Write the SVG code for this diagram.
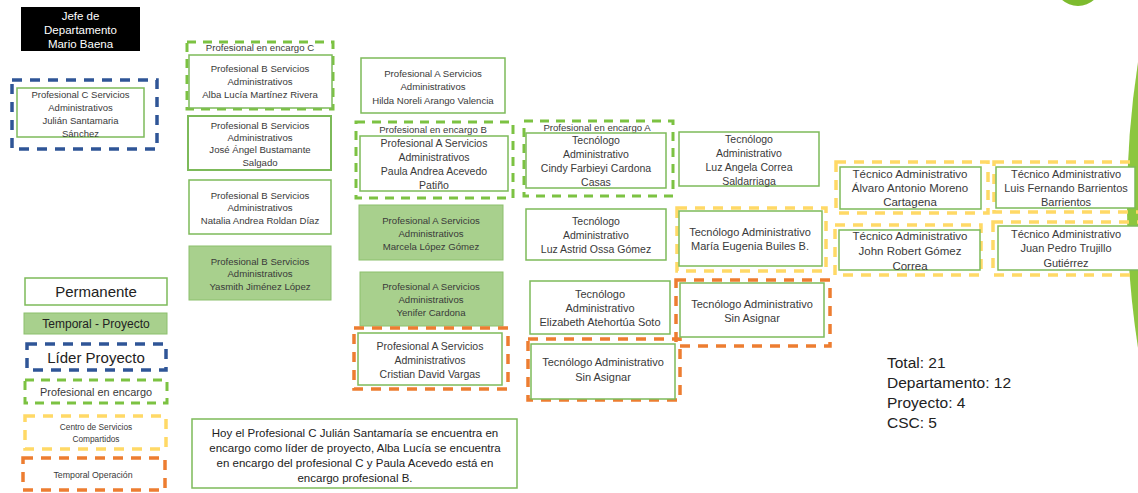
<svg xmlns="http://www.w3.org/2000/svg" width="1138" height="493" viewBox="0 0 1138 493">
<style>
text{font-family:"Liberation Sans",Arial,sans-serif;fill:#3a3a3a;text-anchor:middle;font-size:9.6px}
.box{fill:#fff;stroke:#7dba5a;stroke-width:1.5}
.tmp{fill:#a8d08d;stroke:#8cc06c;stroke-width:1}
.enc{fill:none;stroke:#7cc242;stroke-width:3;stroke-dasharray:9 7}
.lid{fill:none;stroke:#2f5597;stroke-width:3.5;stroke-dasharray:10 8}
.csc{fill:none;stroke:#ffd966;stroke-width:3.5;stroke-dasharray:10 8}
.ope{fill:none;stroke:#ed7d31;stroke-width:3.5;stroke-dasharray:10 8}
.m{font-size:10.5px}
.l{font-size:11px}
.xl{font-size:11.5px}
.tot{font-size:15.5px;text-anchor:start;fill:#222}
</style>
<g id="decor">
<ellipse cx="1078" cy="-16" rx="23" ry="22" fill="#7dbb2e"/>
<path d="M1138,62 Q1116,205 1138,348 Z" fill="#8cc63f"/>
</g>
<g id="connectors"/>
<g id="jefe">
<rect x="21" y="7" width="119" height="44" fill="#000"/>
<text x="80.5" y="20" style="fill:#fff;font-size:11.5px">Jefe de</text>
<text x="80.5" y="34" style="fill:#fff;font-size:11.5px">Departamento</text>
<text x="80.5" y="48" style="fill:#fff;font-size:11.5px">Mario Baena</text>
</g>
<g id="julian">
<rect class="lid" x="12" y="80" width="145" height="69"/>
<rect class="box" x="17" y="88" width="127" height="49"/>
<text x="80.5" y="97.5" style="font-size:9.5px">Profesional C Servicios</text>
<text x="80.5" y="110.5" style="font-size:9.5px">Administrativos</text>
<text x="80.5" y="123.5" style="font-size:9.5px">Julián Santamaria</text>
<text x="80.5" y="136.5" style="font-size:9.5px">Sánchez</text>
</g>
<g id="alba">
<rect class="enc" x="187" y="42" width="146" height="67"/>
<text x="260" y="50.5">Profesional en encargo C</text>
<rect class="box" x="189" y="55" width="143" height="53"/>
<text x="260" y="72">Profesional B  Servicios</text>
<text x="260" y="85">Administrativos</text>
<text x="260" y="98">Alba Lucía Martínez Rivera</text>
</g>
<g id="jose">
<rect class="box" x="188" y="116" width="143" height="54" style="stroke-width:2"/>
<text x="260" y="128.5">Profesional B Servicios</text>
<text x="260" y="140.5">Administrativos</text>
<text x="260" y="152.5">José Ángel Bustamante</text>
<text x="260" y="165.5">Salgado</text>
</g>
<g id="natalia">
<rect class="box" x="189" y="180" width="142" height="54"/>
<text x="260" y="198.5">Profesional B Servicios</text>
<text x="260" y="210.5">Administrativos</text>
<text x="260" y="223.5">Natalia Andrea Roldan Díaz</text>
</g>
<g id="yasmith">
<rect class="tmp" x="189" y="246" width="142" height="54"/>
<text x="260" y="264.5">Profesional B Servicios</text>
<text x="260" y="276.5">Administrativos</text>
<text x="260" y="289.5">Yasmith Jiménez López</text>
</g>
<g id="hilda">
<rect class="box" x="361" y="58" width="144" height="55"/>
<text x="433" y="76.5">Profesional A Servicios</text>
<text x="433" y="89.5">Administrativos</text>
<text x="433" y="103.5">Hilda Noreli Arango Valencia</text>
</g>
<g id="paula">
<rect class="enc" x="356" y="122" width="157" height="76"/>
<text x="433" y="132.5">Profesional en encargo B</text>
<rect class="box" x="360" y="136" width="148" height="55"/>
<text class="m" x="434" y="147">Profesional A Servicios</text>
<text class="m" x="434" y="161">Administrativos</text>
<text class="m" x="434" y="175">Paula Andrea Acevedo</text>
<text class="m" x="434" y="189">Patiño</text>
</g>
<g id="marcela">
<rect class="tmp" x="359" y="205" width="144" height="55"/>
<text x="431" y="223.5">Profesional A Servicios</text>
<text x="431" y="236.5">Administrativos</text>
<text x="431" y="249.5">Marcela López Gómez</text>
</g>
<g id="yenifer">
<rect class="tmp" x="360" y="272" width="143" height="54"/>
<text x="431" y="289.5">Profesional A Servicios</text>
<text x="431" y="302.5">Administrativos</text>
<text x="431" y="315.5">Yenifer Cardona</text>
</g>
<g id="cristian">
<rect class="ope" x="354" y="328" width="154" height="61"/>
<rect class="box" x="358" y="333" width="144" height="52"/>
<text class="m" x="430" y="350">Profesional A Servicios</text>
<text class="m" x="430" y="364">Administrativos</text>
<text class="m" x="430" y="378">Cristian David Vargas</text>
</g>
<g id="cindy">
<rect class="enc" x="524" y="121" width="149" height="75"/>
<text x="597" y="130.5" style="font-size:9.6px">Profesional en encargo A</text>
<rect class="box" x="526" y="133" width="140" height="55"/>
<text class="m" x="596" y="144">Tecnólogo</text>
<text class="m" x="596" y="158">Administrativo</text>
<text class="m" x="596" y="172">Cindy Farbieyi Cardona</text>
<text class="m" x="596" y="186">Casas</text>
</g>
<g id="luzastrid">
<rect class="box" x="526" y="209" width="140" height="51"/>
<text class="m" x="596" y="225">Tecnólogo</text>
<text class="m" x="596" y="239">Administrativo</text>
<text class="m" x="596" y="253">Luz Astrid Ossa Gómez</text>
</g>
<g id="elizabeth">
<rect class="box" x="530" y="281" width="140" height="53"/>
<text class="l" x="600" y="298">Tecnólogo</text>
<text class="l" x="600" y="312">Administrativo</text>
<text class="l" x="600" y="326">Elizabeth Atehortúa Soto</text>
</g>
<g id="sinasignar1">
<rect class="ope" x="528" y="339" width="152" height="61"/>
<rect class="box" x="531" y="344" width="144" height="55"/>
<text class="l" x="603" y="366">Tecnólogo Administrativo</text>
<text class="l" x="603" y="381">Sin Asignar</text>
</g>
<g id="luzangela">
<rect class="box" x="679" y="132" width="140" height="54"/>
<text class="m" x="749" y="142.5">Tecnólogo</text>
<text class="m" x="749" y="156.5">Administrativo</text>
<text class="m" x="749" y="170.5">Luz Angela Correa</text>
<text class="m" x="749" y="184.5">Saldarriaga</text>
</g>
<g id="maria">
<rect class="csc" x="677" y="208" width="149" height="63"/>
<rect class="box" x="679" y="211" width="143" height="55"/>
<text class="l" x="750" y="235.5">Tecnólogo Administrativo</text>
<text class="l" x="750" y="249.5">María Eugenia Builes B.</text>
</g>
<g id="sinasignar2">
<rect class="ope" x="676" y="280" width="154" height="66"/>
<rect class="box" x="680" y="283" width="144" height="54"/>
<text class="l" x="752" y="307.5">Tecnólogo Administrativo</text>
<text class="l" x="752" y="321.5">Sin Asignar</text>
</g>
<g id="alvaro">
<rect class="csc" x="836" y="162" width="152" height="51"/>
<rect class="box" x="840" y="167" width="141" height="42"/>
<text class="xl" x="910" y="178">Técnico Administrativo</text>
<text class="xl" x="910" y="192">Álvaro Antonio Moreno</text>
<text class="xl" x="910" y="206">Cartagena</text>
</g>
<g id="john">
<rect class="csc" x="835" y="225" width="146" height="50"/>
<rect class="box" x="839" y="230" width="141" height="40"/>
<text class="xl" x="910" y="240">Técnico Administrativo</text>
<text class="xl" x="910" y="255">John Robert Gómez</text>
<text class="xl" x="910" y="270">Correa</text>
</g>
<g id="luisfernando">
<rect class="csc" x="994" y="162" width="150" height="50"/>
<rect class="box" x="996" y="167" width="139" height="41"/>
<text class="l" x="1066" y="178">Técnico Administrativo</text>
<text class="l" x="1066" y="192">Luis Fernando Barrientos</text>
<text class="l" x="1066" y="206">Barrientos</text>
</g>
<g id="juanpedro">
<rect class="csc" x="993" y="222" width="150" height="53"/>
<rect class="box" x="998" y="226" width="145" height="44"/>
<text class="l" x="1066" y="238">Técnico Administrativo</text>
<text class="l" x="1066" y="252">Juan Pedro Trujillo</text>
<text class="l" x="1066" y="267">Gutiérrez</text>
</g>
<g id="legend">
<rect class="box" x="25" y="278" width="142" height="27"/>
<text x="96" y="297" style="font-size:15px;fill:#222">Permanente</text>
<rect class="tmp" x="24" y="313" width="143" height="21"/>
<text x="96" y="328" style="font-size:12px;fill:#222">Temporal - Proyecto</text>
<rect class="lid" x="27" y="344" width="139" height="26"/>
<text x="96" y="362.5" style="font-size:15px;fill:#222">Líder Proyecto</text>
<rect class="enc" x="25" y="380" width="142" height="23"/>
<text x="96" y="395.5" style="font-size:10.9px">Profesional en encargo</text>
<rect class="csc" x="25" y="416" width="141" height="33"/>
<text x="96" y="430" style="font-size:8.3px">Centro de Servicios</text>
<text x="96" y="441.5" style="font-size:8.3px">Compartidos</text>
<rect class="ope" x="23" y="458" width="142" height="32"/>
<text x="93" y="478" style="font-size:8.8px">Temporal Operación</text>
</g>
<g id="nota">
<rect class="box" x="192" y="419" width="325" height="69"/>
<text x="355" y="437" style="font-size:11.5px;fill:#222">Hoy el Profesional C Julián Santamaría se encuentra en</text>
<text x="355" y="452" style="font-size:11.5px;fill:#222">encargo como líder de proyecto, Alba Lucía se encuentra</text>
<text x="355" y="467" style="font-size:11.5px;fill:#222">en encargo del profesional C  y Paula Acevedo está en</text>
<text x="355" y="482" style="font-size:11.5px;fill:#222">encargo profesional B.</text>
</g>
<g id="totales">
<text class="tot" x="887" y="368">Total: 21</text>
<text class="tot" x="887" y="388">Departamento: 12</text>
<text class="tot" x="887" y="408">Proyecto: 4</text>
<text class="tot" x="887" y="428">CSC: 5</text>
</g>
</svg>
